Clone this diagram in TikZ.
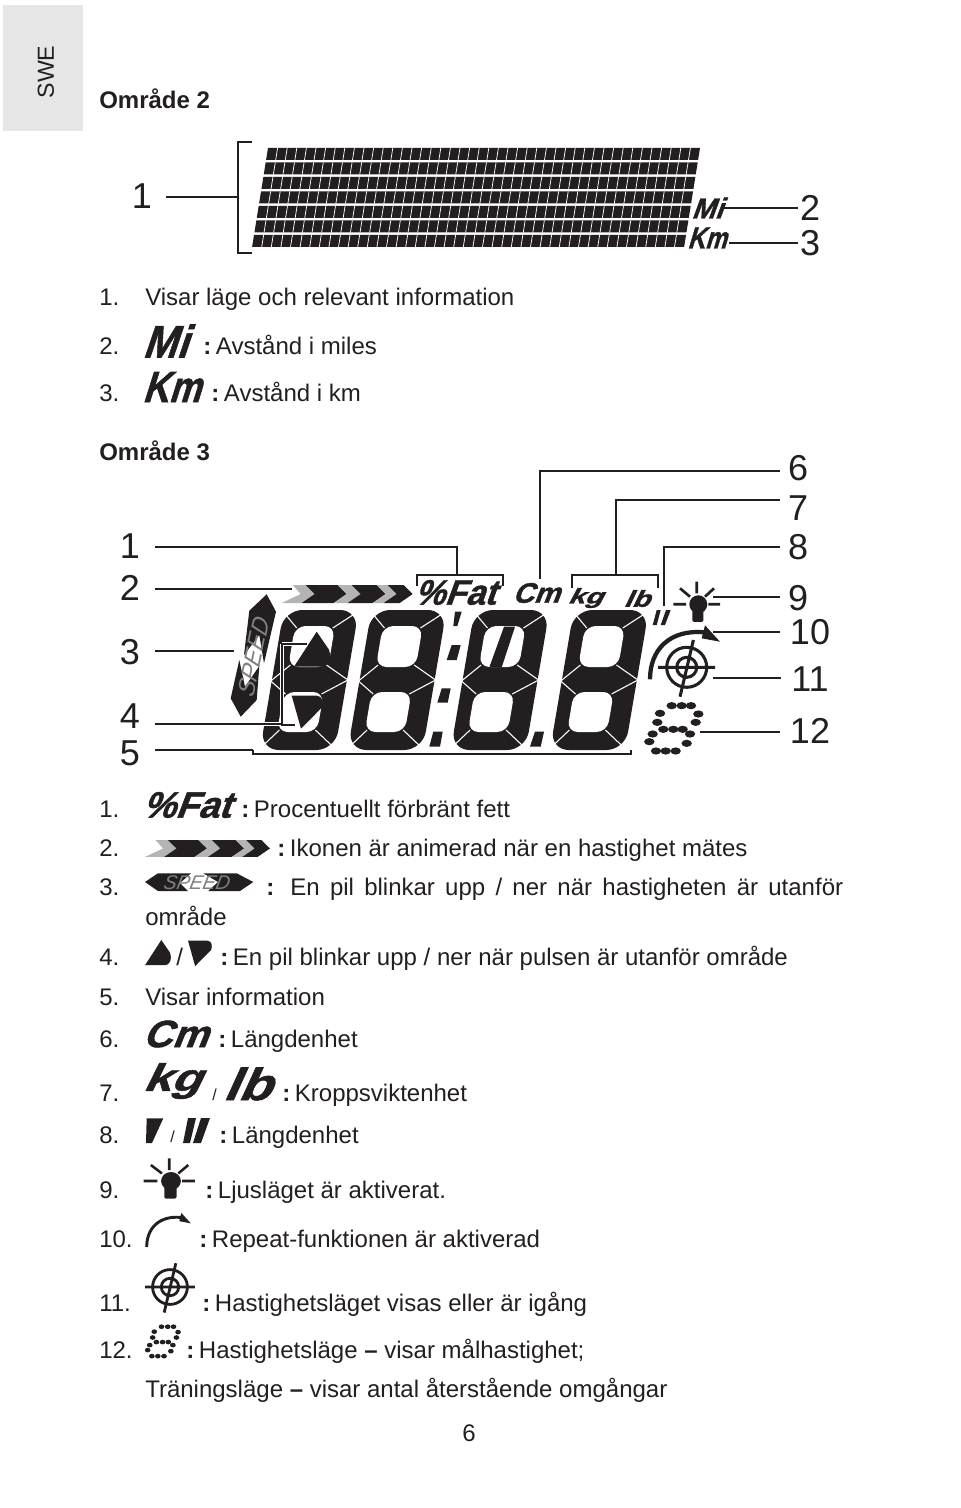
\documentclass[tikz,border=0pt]{standalone}
\usepackage{fontspec}
\usepackage{graphicx}
\setmainfont{Liberation Sans}
\newfontfamily\lcd[BoldFeatures={FakeSlant=.38,FakeBold=1.2},ItalicFeatures={FakeSlant=.2}]{Liberation Sans}
\newlength\px \setlength\px{0.75pt}
\definecolor{ink}{HTML}{231F20}
\definecolor{chevgrey}{HTML}{B4B4B4}
\definecolor{sidegrey}{HTML}{E6E6E7}
\newcommand\cc{\textbf{:}\kern-1.5pt\ }
\tikzset{
 txt/.style={font=\fontsize{18pt}{20pt}\selectfont,anchor=base west,inner sep=0pt,text=ink},
 head/.style={txt,font=\fontsize{18pt}{20pt}\selectfont\bfseries},
 bignum/.style={font=\fontsize{27pt}{30pt}\selectfont,text=ink,inner ysep=0pt},
 ln/.style={draw=ink,line width=1.25pt},
 halo/.style={draw=white,line width=2.8pt},
 icon/.style={inner sep=0pt,text=ink},
}
\newcommand\lcdword[6]{\node[icon] (#5) at ([xshift=-2pt]#1,#2) {\resizebox*{#3\px}{#4\px}{\lcd\bfseries #6}};}
\newcommand\digitcell[1]{%
 \begin{scope}[shift={(#1,610)},xslant=.17]
  \fill[ink,rounded corners=14] (0,0) rectangle (75,140);
  \fill[white,rounded corners=8] (14,16) rectangle (54,57);
  \fill[white,rounded corners=8] (14,82) rectangle (54,122);
  \draw[white,line width=.8pt]
   (16,18)--(1,3) (52,18)--(74,2)
   (16,55)--(-1,71)--(16,84)
   (52,55)--(76,70)--(52,84)
   (16,120)--(1,137) (52,120)--(74,138);
 \end{scope}}
\newcommand\chevrons{%
 \fill[chevgrey] (11,0)--(24,0)--(33,9)--(20,18)--(0,18)--(19,9)--cycle;
 \fill[ink] (24,0)--(56,0)--(65,9)--(52,18)--(20,18)--(33,9)--cycle;
 \fill[chevgrey] (56,0)--(70,0)--(79,9)--(66,18)--(52,18)--(65,9)--cycle;
 \fill[ink] (70,0)--(95,0)--(104,9)--(91,18)--(66,18)--(79,9)--cycle;
 \fill[chevgrey] (95,0)--(106,0)--(115,9)--(102,18)--(91,18)--(104,9)--cycle;
 \fill[ink] (106,0)--(122,0)--(131,9)--(118,18)--(102,18)--(115,9)--cycle;}
\newcommand\hrup{\fill[ink] (22.7,0) -- (35,18) .. controls (38,27) and (34,35) .. (27.7,35) -- (0,35) -- cycle;}
\newcommand\hrdown{\fill[ink] (0,0) -- (25,0) .. controls (31,0) and (32,7) .. (30,12) -- (9.3,33) -- cycle;}
\newcommand\sunicon[1]{%
 \fill[ink] (0,0) circle (9);
 \fill[ink,rounded corners=1] (-6,5) rectangle (5,17.5);
 \draw[ink,line width=#1] (-1.6,-22.6)--(-1.6,-11) (-18.3,-16)--(-8.3,-7.6) (15.7,-16)--(6.7,-7.6) (-25,0)--(-12.3,0) (10,0)--(21.7,0);}
\newcommand\arcicon[1]{%
 \draw[ink,line width=#1] (0,0) .. controls (0,-30) and (20,-50) .. (54,-47);
 \fill[ink] (70,-37.6) -- (55,-54) -- (51.7,-41) -- cycle;}
\newcommand\targeticon[1]{%
 \draw[ink,line width=#1] (0,0) circle (20) (0,0) circle (10)
  (-28.5,0)--(28.5,0) (6.7,-27.3)--(-6.7,29.4);}
\newcommand\doticon[2]{%
 \foreach \dx/\dy in {125/437,155/437,183/437,90/460,82/487,68/522,205/462,197/487,180/522,100/508,130/508,158/508,58/545,170/550,78/573,107/573,137/573}
  {\fill[ink] ({\dx/3},{\dy/3}) ellipse (#1 and #2);}}
\begin{document}
\begin{tikzpicture}[x=0.75pt,y=-0.75pt]
\useasboundingbox (0,0) rectangle (960,1508);
\fill[white] (0,0) rectangle (960,1508);
% side tab
\fill[sidegrey] (3,5) rectangle (83,131);
\node[font=\fontsize{17.4pt}{20pt}\selectfont,text=ink,rotate=90,inner sep=0pt] (swe) at (46,72) {SWE};
\node[head] (t2) at (99,109) {Område 2};
% Area 2 matrix
\foreach \r in {0,...,6}{
 \begin{scope}[shift={({268-2.33*\r},{148+14.5*\r})},xslant=.16]
  \fill[ink] (0,0) rectangle (432,12);
  \foreach \c in {1,...,44}{\draw[white,line width=.55pt] ({9.6*\c},0)--({9.6*\c},12);}
 \end{scope}}
\lcdword{709.5}{208}{31}{21}{mi}{Mi}
\lcdword{709.5}{238}{39}{21}{km}{Km}
\node[bignum,inner xsep=10.5pt] (a1) at (142,196) {1};
\node[bignum,inner xsep=1.5pt] (a2) at (810,208) {2};
\node[bignum,inner xsep=1.5pt] (a3) at (810,243) {3};
\coordinate (ab) at (237.7,197);
\coordinate (kb) at (729,243);
\draw[ln] (251.5,142)--(237.7,142)--(237.7,253)--(251.5,253);
\draw[ln] (a1.east |- ab)--(ab);
\draw[ln] (mi.east)--(mi.east -| a2.west);
\draw[ln] (kb)--(kb -| a3.west);
\node[txt] (i1) at (99,306) {1.};
\node[txt] (i1t) at (145,306) {Visar läge och relevant information};
\node[txt] (i2) at (99,355) {2.};
\lcdword{167.5}{341}{45}{33}{lmi}{Mi}
\node[txt] (i2t) at (203,355) {\cc Avstånd i miles};
\node[txt] (i3) at (99,402) {3.};
\lcdword{174}{387}{58}{30}{lkm}{Km}
\node[txt] (i3t) at (211,402) {\cc Avstånd i km};
\node[head] (t3) at (99,460) {Område 3};
% Area 3 display
\digitcell{283.8}\digitcell{371.5}\digitcell{474.5}\digitcell{573.8}
\begin{scope}[shift={(294,631.7)}]\hrup\end{scope}
\begin{scope}[shift={(291.7,695.7)}]\hrdown\end{scope}
\fill[ink] (455,611.7)--(461.7,611.7)--(457.3,626)--(453.3,626)--cycle;
\fill[ink] (451.7,645)--(460.7,645)--(456.7,660)--(446.7,660)--cycle;
\fill[ink] (441.7,688.3)--(450.7,688.3)--(447.7,702.7)--(437.3,702.7)--cycle;
\fill[ink] (433.3,731.7)--(442.7,731.7)--(440,746.7)--(429.3,746.7)--cycle;
\fill[ink] (535,731.7)--(544,731.7)--(540.7,746.7)--(530,746.7)--cycle;
\fill[ink] (504,626.7)--(515,626.7)--(501.7,667.3)--(489.3,667.3)--cycle;
\fill[ink] (656.7,610)--(660.7,610)--(656.7,625)--(652.7,625)--cycle;
\fill[ink] (666,610)--(670.7,610)--(665,625)--(660.7,625)--cycle;
\begin{scope}[shift={(281.7,585)}]\chevrons\end{scope}
% SPEED bar
\fill[ink] (266.7,594.3)--(276,611.7)--(264,663.3)--(259.3,635)--(244,655)--(249.3,610.7)--cycle;
\fill[ink] (240.7,716.7)--(230.7,698.3)--(239.3,660)--(245,686.7)--(259.3,666)--(256.7,700)--cycle;
\node[inner sep=0pt,rotate=78,text=gray] (spv) at (253.3,658) {\resizebox*{80\px}{17\px}{\lcd\itshape SPEED}};
\lcdword{457.5}{592.5}{81}{25}{wfat}{\%Fat}
\lcdword{538.5}{593}{47}{20}{wcm}{Cm}
\lcdword{587.5}{598}{35}{20}{wkg}{kg}
\lcdword{639}{598.5}{26}{17}{wlb}{lb}
\begin{scope}[shift={(698.3,604.3)}]\sunicon{2pt}\end{scope}
\begin{scope}[shift={(650,679.3)}]\arcicon{3.2pt}\end{scope}
\begin{scope}[shift={(686.7,667.3)}]\targeticon{2.3pt}\end{scope}
\begin{scope}[shift={(630,560)}]\doticon{5.2}{3.6}\end{scope}
% labels left
\node[bignum,inner xsep=11pt] (b1) at (130,546) {1};
\node[bignum,inner xsep=11pt] (b2) at (130,588) {2};
\node[bignum,inner xsep=11pt] (b3) at (130,652) {3};
\node[bignum,inner xsep=11pt] (b4) at (130,716) {4};
\node[bignum,inner xsep=11pt] (b5) at (130,753) {5};
\node[bignum,inner xsep=6pt] (b6) at (798,468) {6};
\node[bignum,inner xsep=6pt] (b7) at (798,508) {7};
\node[bignum,inner xsep=6pt] (b8) at (798,547) {8};
\node[bignum,inner xsep=6pt] (b9) at (798,598) {9};
\node[bignum,inner xsep=7.5pt] (b10) at (810,632) {10};
\node[bignum,inner xsep=7.5pt] (b11) at (810,679) {11};
\node[bignum,inner xsep=7.5pt] (b12) at (810,731) {12};
\coordinate (c1) at (457,547); \coordinate (d1) at (457,575);
\coordinate (c2) at (291.7,589);
\coordinate (c3) at (234,651);
\coordinate (c4) at (281.7,724);
\coordinate (c5) at (252.7,750);
\coordinate (c6) at (540,471); \coordinate (d6) at (540,579);
\coordinate (c7) at (616,500); \coordinate (d7) at (616,575);
\coordinate (c8) at (664,547); \coordinate (d8) at (664,606);
\coordinate (c9) at (713,597);
\coordinate (c10) at (713,632);
\coordinate (c11) at (713,678);
\coordinate (c12) at (700,732);
\draw[ln] (b1.east |- c1)--(c1)--(d1);
\draw[ln] (b2.east |- c2)--(c2);
\draw[ln] (b3.east |- c3)--(c3);
\draw[halo] (281.7,644)--(306.7,644) (281.7,644)--(281.7,724)--(295,724) (260,724)--(281.7,724);
\draw[ln] (306.7,644)--(281.7,644)--(281.7,725)--(295,725);
\draw[ln] (b4.east |- c4)--(c4);
\draw[ln] (b5.east |- c5)--(c5);
\draw[ln] (252.7,750)--(252.7,754.3)--(630.7,754.3)--(630.7,750);
\draw[ln] (416.7,586)--(416.7,575)--(503,575)--(503,586);
\draw[ln] (572.3,587.7)--(572.3,575)--(657.7,575)--(657.7,587.7);
\draw[ln] (b6.west |- c6)--(c6)--(d6);
\draw[ln] (b7.west |- c7)--(c7)--(d7);
\draw[ln] (b8.west |- c8)--(c8)--(d8);
\draw[ln] (b9.west |- c9)--(c9);
\draw[ln] (b10.west |- c10)--(c10);
\draw[ln] (b11.west |- c11)--(c11);
\draw[ln] (b12.west |- c12)--(c12);
% legend
\node[txt] (l1) at (99,817) {1.};
\lcdword{189}{805}{88}{26}{lfat}{\%Fat}
\node[txt] (l1t) at (241,817) {\cc Procentuellt förbränt fett};
\node[txt] (l2) at (99,856) {2.};
\begin{scope}[shift={(145,840)},xscale=.954,yscale=.94]\chevrons\end{scope}
\node[txt] (l2t) at (277,856) {\cc Ikonen är animerad när en hastighet mätes};
\node[txt] (l3) at (99,895) {3.};
\fill[ink] (145,882)--(158,873.3)--(191,873.3)--(180,883)--(188,891)--(158,891)--cycle;
\fill[ink] (203.3,873.3)--(236.7,873.3)--(253.3,882)--(240,891)--(208.3,891)--(218,882)--cycle;
\node[inner sep=0pt,text=gray] (lsp) at (196,883) {\resizebox*{66\px}{14\px}{\lcd\itshape SPEED}};
\node[txt] (l3t) at (266,895) {\makebox[432.7pt][s]{\textbf{:} En pil blinkar upp / ner när hastigheten är utanför}};
\node[txt] (l3b) at (145,925) {område};
\node[txt] (l4) at (99,965) {4.};
\begin{scope}[shift={(145,940)},scale=.72]\hrup\end{scope}
\node[txt] (l4s) at (176,965) {/};
\begin{scope}[shift={(188,940.7)},scale=.77]\hrdown\end{scope}
\node[txt] (l4t) at (220,965) {\cc En pil blinkar upp / ner när pulsen är utanför område};
\node[txt] (l5) at (99,1005) {5.};
\node[txt] (l5t) at (145,1005) {Visar information};
\node[txt] (l6) at (99,1047) {6.};
\lcdword{177.5}{1034}{65}{27}{lcm}{Cm}
\node[txt] (l6t) at (218,1047) {\cc Längdenhet};
\node[txt] (l7) at (99,1101) {7.};
\lcdword{174}{1081}{58}{36}{lkg}{kg}
\node[txt,font=\fontsize{12pt}{14pt}\selectfont] (l7s) at (212,1100) {/};
\lcdword{249}{1084}{48}{33}{llb}{lb}
\node[txt] (l7t) at (282,1101) {\cc Kroppsviktenhet};
\node[txt] (l8) at (99,1143) {8.};
\fill[ink] (146.7,1118.3)--(163.3,1118.3)--(152,1143)--(146,1143)--cycle;
\node[txt,font=\fontsize{12pt}{14pt}\selectfont] (l8s) at (170,1142) {/};
\fill[ink] (188,1118)--(196,1118)--(190,1143)--(183,1143)--cycle;
\fill[ink] (201,1118)--(210,1118)--(201,1143)--(193,1143)--cycle;
\node[txt] (l8t) at (219,1143) {\cc Längdenhet};
\node[txt] (l9) at (99,1198) {9.};
\begin{scope}[shift={(171,1181)},xscale=1.1]\sunicon{1.9pt}\end{scope}
\node[txt] (l9t) at (205,1198) {\cc Ljusläget är aktiverat.};
\node[txt] (l10) at (99,1247) {10.};
\begin{scope}[shift={(146.7,1247)},scale=.63]\arcicon{2.2pt}\end{scope}
\node[txt] (l10t) at (199,1247) {\cc Repeat-funktionen är aktiverad};
\node[txt] (l11) at (99,1311) {11.};
\begin{scope}[shift={(170,1287)},scale=.87]\targeticon{2.1pt}\end{scope}
\node[txt] (l11t) at (202,1311) {\cc Hastighetsläget visas eller är igång};
\node[txt] (l12) at (99,1358) {12.};
\begin{scope}[shift={(135.7,1232)},xscale=.62,yscale=.65]\doticon{4.6}{3.6}\end{scope}
\node[txt] (l12t) at (186,1358) {\cc Hastighetsläge \textbf{–} visar målhastighet;};
\node[txt] (l12b) at (145,1397) {Träningsläge \textbf{–} visar antal återstående omgångar};
\node[txt] (pg) at (462,1441) {6};
\end{tikzpicture}
\end{document}
